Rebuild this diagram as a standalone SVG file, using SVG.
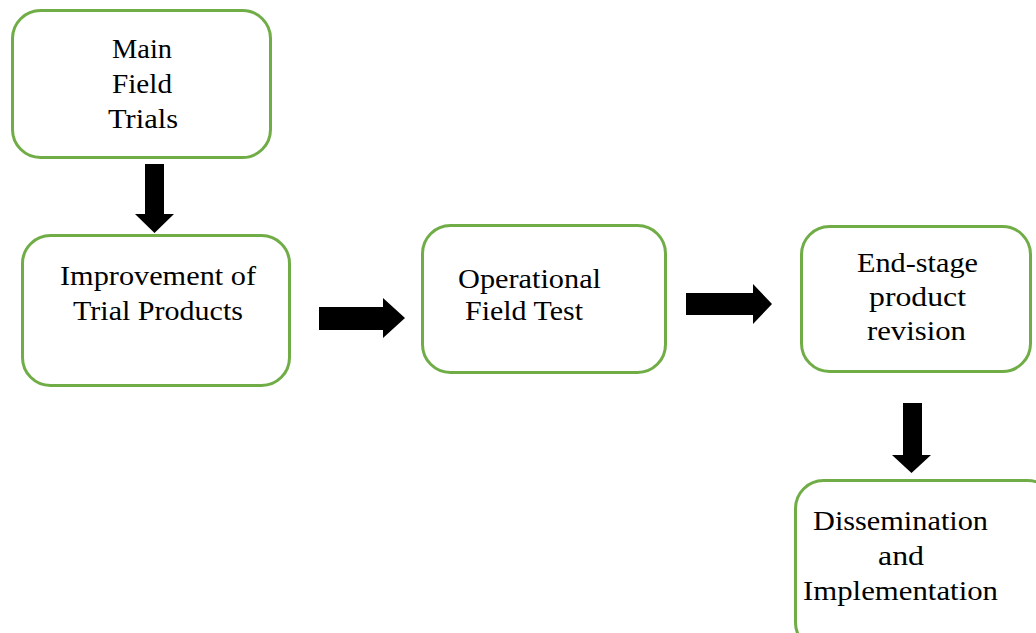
<svg xmlns="http://www.w3.org/2000/svg" width="1036" height="633" viewBox="0 0 1036 633">
<style>
.box{fill:#fff;stroke:#70AD47;stroke-width:3}
.t{font-family:"Liberation Serif","DejaVu Serif",serif;font-size:28px;fill:#000}
.arr{fill:#000}
</style>
<rect width="1036" height="633" fill="#fff"/>
<g id="connectors">
<polygon class="arr" points="145,164 164,164 164,214 174,214 154.5,233 135,214 145,214"/>
<polygon class="arr" points="319,307 383,307 383,298 405,318 383,338 383,330 319,330"/>
<polygon class="arr" points="686,293 753,293 753,284 772,304 753,324 753,315 686,315"/>
<polygon class="arr" points="903,403 922,403 922,455 931,455 911.5,473 892,455 903,455"/>
</g>
<g id="n1">
<rect class="box" x="12.5" y="10.5" width="258" height="147" rx="28"/>
<text class="t" x="112" y="58" textLength="60" lengthAdjust="spacingAndGlyphs">Main</text>
<text class="t" x="112" y="93" textLength="60" lengthAdjust="spacingAndGlyphs">Field</text>
<text class="t" x="108" y="128" textLength="70" lengthAdjust="spacingAndGlyphs">Trials</text>
</g>
<g id="n2">
<rect class="box" x="22.5" y="235.5" width="267" height="150" rx="28"/>
<text class="t" x="60" y="285" textLength="196" lengthAdjust="spacingAndGlyphs">Improvement of</text>
<text class="t" x="73" y="320" textLength="170" lengthAdjust="spacingAndGlyphs">Trial Products</text>
</g>
<g id="n3">
<rect class="box" x="422.5" y="225.5" width="243" height="147" rx="28"/>
<text class="t" x="458" y="288" textLength="143" lengthAdjust="spacingAndGlyphs">Operational</text>
<text class="t" x="465" y="320" textLength="118" lengthAdjust="spacingAndGlyphs">Field Test</text>
</g>
<g id="n4">
<rect class="box" x="801.5" y="226.5" width="229" height="145" rx="28"/>
<text class="t" x="857" y="272" textLength="121" lengthAdjust="spacingAndGlyphs">End-stage</text>
<text class="t" x="869" y="306" textLength="97" lengthAdjust="spacingAndGlyphs">product</text>
<text class="t" x="867" y="340" textLength="99" lengthAdjust="spacingAndGlyphs">revision</text>
</g>
<g id="n5">
<rect class="box" x="795.5" y="480.5" width="260" height="170" rx="28"/>
<text class="t" x="813" y="530" textLength="175" lengthAdjust="spacingAndGlyphs">Dissemination</text>
<text class="t" x="878" y="565" textLength="46" lengthAdjust="spacingAndGlyphs">and</text>
<text class="t" x="803" y="600" textLength="195" lengthAdjust="spacingAndGlyphs">Implementation</text>
</g>
</svg>
